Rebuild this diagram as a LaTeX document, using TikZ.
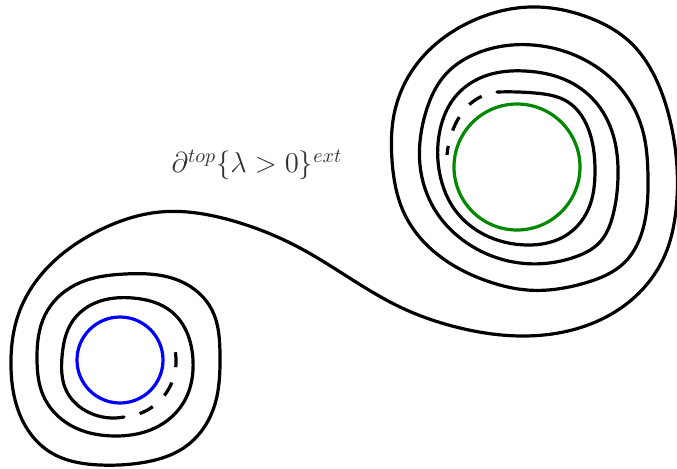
\documentclass[tikz,border=0pt]{standalone}
\usepackage{tikz}
\usetikzlibrary{hobby}
\definecolor{CoreBlue}{HTML}{0000FF}
\definecolor{CoreGreen}{HTML}{008800}
\definecolor{LabelGray}{HTML}{333333}

\begin{document}
\begin{tikzpicture}[
  x=0.5pt,y=-0.5pt,
  curve/.style={line width=1.6pt,line cap=round,line join=round,use Hobby shortcut},
  hidden/.style={line width=1.6pt,dash pattern=on 7.5pt off 8pt,dash phase=7.5pt},
  core/.style={line width=1.6pt}
]
  \useasboundingbox (0,0) rectangle (677,468);

  % the two cores
  \draw[core,draw=CoreBlue] (120,360) circle[radius=43];
  \draw[core,draw=CoreGreen] (517,167) circle[radius=63];

  % one curve, spiralling out of the left core and into the right one
  \draw[curve] (124,417) .. (90,413) .. (66,390) .. (62,357) .. (72,322)
    .. (95,303) .. (133,298) .. (172,312) .. (193,360) .. (185,400)
    .. (155,428) .. (115,436) .. (70,425) .. (43,395) .. (37,360)
    .. (45,315) .. (75,285) .. (125,274) .. (180,281) .. (212,310)
    .. (220,355) .. (213,410) .. (185,447) .. (140,463) .. (100,465)
    .. (50,452) .. (20,415) .. (11,367) .. (20,310) .. (50,265)
    .. (100,230) .. (160,212) .. (230,220) .. (300,248) .. (400,307)
    .. (460,328) .. (523,336) .. (600,320) .. (640,292) .. (665,255)
    .. (676,210) .. (677,167) .. (670,120) .. (655,77) .. (630,42)
    .. (590,18) .. (530,7) .. (470,22)
    .. (420,60) .. (395,110) .. (392,160) .. (405,215) .. (445,260)
    .. (490,282) .. (527,290) .. (585,283) .. (625,262) .. (644,225)
    .. (648,177) .. (642,128) .. (622,90) .. (585,60) .. (533,45) .. (480,52)
    .. (445,75) .. (425,115) .. (420,165) .. (435,210) .. (470,245)
    .. (520,263) .. (575,257) .. (600,242) .. (613,215) .. (618,177)
    .. (614,138) .. (598,105) .. (570,82) .. (525,71) .. (485,76) .. (455,97)
    .. (440,130) .. (440,175) .. (455,210) .. (485,235) .. (527,245)
    .. (565,236) .. (588,210) .. (595,170) .. (588,128) .. (568,102)
    .. (535,93) .. (497,92);

  % hidden continuations
  \draw[hidden] (124,417) arc[start angle=86,end angle=-12,radius=56];
  \draw[hidden,use Hobby shortcut] (497,92) .. (470,104) .. (455,125) .. (447,155);

  \node[text=LabelGray,font=\Large] (lbl) at (257,165)
    {$\partial^{top}\{\lambda>0\}^{ext}$};

\end{tikzpicture}
\end{document}
